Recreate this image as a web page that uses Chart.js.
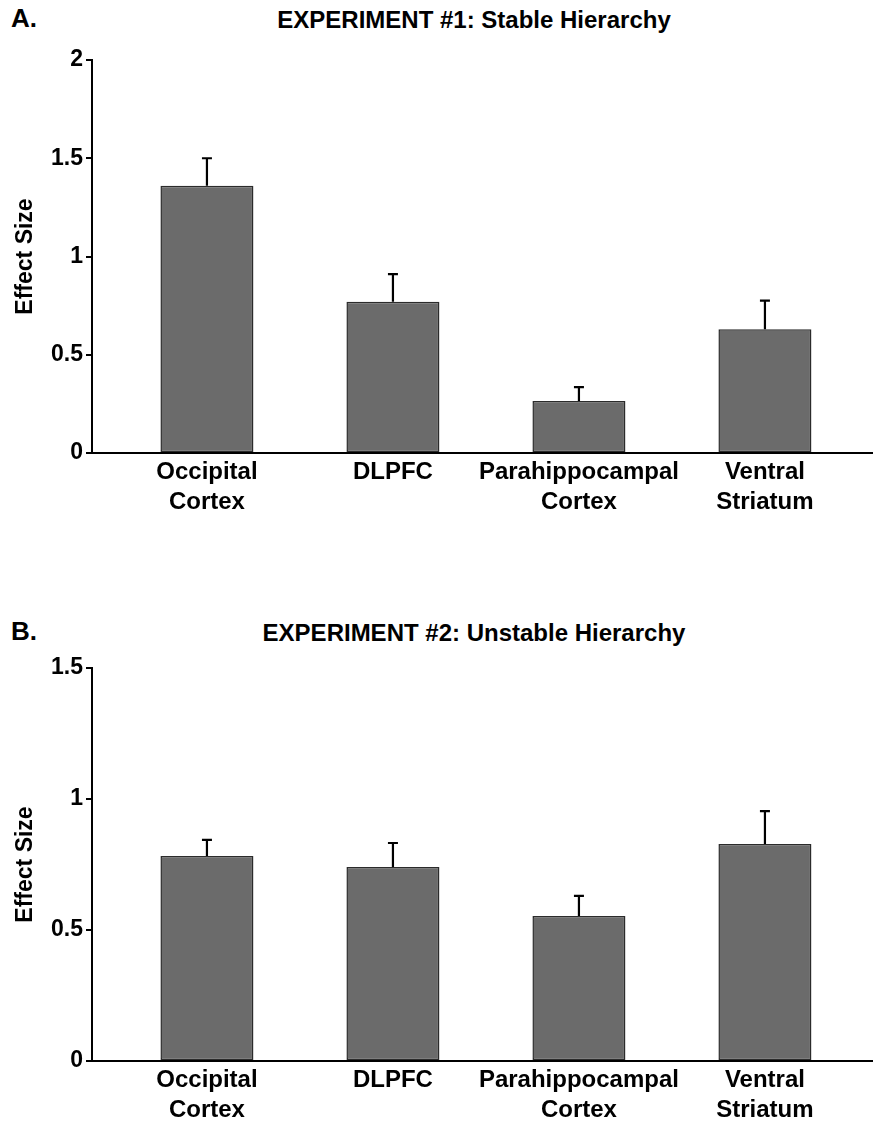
<!DOCTYPE html>
<html>
<head>
<meta charset="utf-8">
<script src="https://cdn.jsdelivr.net/npm/chart.js@4/dist/chart.umd.min.js"></script>
<style>
  html, body { margin: 0; padding: 0; background: #fff; overflow: hidden; }
  #page { position: relative; width: 873px; height: 1122px; font-family: "Liberation Sans", Arial, sans-serif; }
  .panel { position: absolute; left: 0; width: 873px; height: 540px; }
  .letter { position: absolute; left: 11px; font-weight: bold; font-size: 26px; line-height: 1; color: #000; }
  .title { position: absolute; left: 474px; transform: translateX(-50%); white-space: nowrap; font-weight: bold; font-size: 24px; line-height: 1; color: #000; }
</style>
</head>
<body>
<div id="page">
  <div class="letter" style="top:5px">A.</div>
  <div class="title" style="top:8px">EXPERIMENT #1: Stable Hierarchy</div>
  <div class="panel" style="top:0px"><canvas id="c1" width="873" height="540"></canvas></div>
  <div class="letter" style="top:618px">B.</div>
  <div class="title" style="top:621px">EXPERIMENT #2: Unstable Hierarchy</div>
  <div class="panel" style="top:608px"><canvas id="c2" width="873" height="540"></canvas></div>
</div>
<script>
// ---- data ----
const categories = [["Occipital", "Cortex"], ["DLPFC"], ["Parahippocampal", "Cortex"], ["Ventral", "Striatum"]];
const exp1Values = [1.36, 0.77, 0.265, 0.63];
const exp1Errors = [0.14, 0.14, 0.07, 0.145];
const exp2Values = [0.782, 0.74, 0.553, 0.828];
const exp2Errors = [0.062, 0.092, 0.077, 0.126];
const exp1YTicks = [0, 0.5, 1, 1.5, 2];
const exp2YTicks = [0, 0.5, 1, 1.5];
const yAxisTitle = "Effect Size";

const FONT = '"Liberation Sans", Arial, sans-serif';

const errorBarPlugin = {
  id: 'errorBars',
  afterDatasetsDraw(chart) {
    const ctx = chart.ctx;
    const yScale = chart.scales.y;
    chart.data.datasets.forEach((ds, di) => {
      const meta = chart.getDatasetMeta(di);
      const errs = ds.errors || [];
      meta.data.forEach((el, i) => {
        const v = ds.data[i].y;
        const top = yScale.getPixelForValue(v + errs[i]);
        const base = el.y;
        ctx.save();
        ctx.strokeStyle = '#000';
        ctx.lineWidth = 2.2;
        ctx.beginPath();
        ctx.moveTo(el.x, base);
        ctx.lineTo(el.x, top);
        ctx.moveTo(el.x - 5, top);
        ctx.lineTo(el.x + 5, top);
        ctx.stroke();
        ctx.restore();
      });
    });
  }
};

function makeChart(id, values, errors, yTicks) {
  const data = values.map((v, i) => ({ x: i, y: v }));
  return new Chart(document.getElementById(id), {
    type: 'bar',
    data: {
      datasets: [{
        data: data,
        errors: errors,
        backgroundColor: '#6b6b6b',
        borderColor: '#2b2b2b',
        borderWidth: 1.5,
        borderSkipped: false,
        categoryPercentage: 1,
        barPercentage: 0.5
      }]
    },
    options: {
      responsive: false,
      animation: false,
      events: [],
      layout: { padding: { top: 60, right: 0, bottom: 0, left: 0 } },
      plugins: { legend: { display: false }, tooltip: { enabled: false }, title: { display: false } },
      scales: {
        x: {
          type: 'linear',
          offset: false,
          min: -0.618,
          max: 3.581,
          afterBuildTicks(scale) { scale.ticks = categories.map((c, i) => ({ value: i })); },
          afterFit(scale) { scale.height = 87; },
          ticks: {
            autoSkip: false,
            maxRotation: 0,
            minRotation: 0,
            padding: 4,
            color: '#000',
            font: { family: FONT, size: 24, weight: 'bold', lineHeight: 1.25 },
            callback: (value) => categories[value]
          },
          grid: { display: false, drawTicks: false, offset: false },
          border: { display: true, color: '#000', width: 2 }
        },
        y: {
          min: yTicks[0],
          max: yTicks[yTicks.length - 1],
          afterBuildTicks(scale) { scale.ticks = yTicks.map(v => ({ value: v })); },
          afterFit(scale) { scale.width = 92; },
          ticks: {
            padding: 3,
            color: '#000',
            font: { family: FONT, size: 23, weight: 'bold' },
            callback: (value) => String(value)
          },
          grid: { display: true, drawOnChartArea: false, drawTicks: true, tickLength: 6, color: '#000', lineWidth: 2 },
          border: { display: true, color: '#000', width: 2 },
          title: {
            display: true,
            text: yAxisTitle,
            color: '#000',
            font: { family: FONT, size: 23, weight: 'bold' },
            padding: { top: 12, bottom: 0 }
          }
        }
      }
    },
    plugins: [errorBarPlugin]
  });
}

makeChart('c1', exp1Values, exp1Errors, exp1YTicks);
makeChart('c2', exp2Values, exp2Errors, exp2YTicks);
</script>
</body>
</html>
